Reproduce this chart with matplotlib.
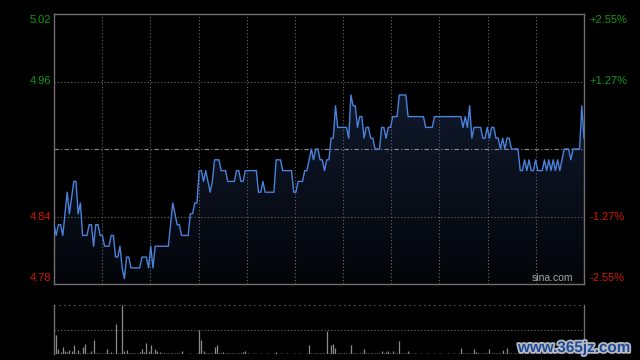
import numpy as np
import matplotlib
matplotlib.use("Agg")
import matplotlib.pyplot as plt
import matplotlib.patheffects as pe

plt.rcParams['font.family'] = ['Liberation Sans', 'DejaVu Sans']

# intraday price: minute index and price at turning points
minutes = [0, 1, 2, 3, 4, 5, 6, 7, 9, 10, 11, 12, 13, 15, 16, 17, 18, 19, 20, 21,
           22, 23, 25, 26, 27, 28, 29, 30, 31, 32, 33, 34, 35, 39, 40, 42, 43, 44, 45, 46,
           52, 53, 54, 55, 56, 57, 58, 61, 62, 63, 64, 65, 66, 67, 68, 69, 71, 72, 73, 75,
           76, 78, 79, 82, 83, 84, 85, 86, 87, 92, 93, 94, 95, 96, 100, 101, 103, 104, 108, 109,
           110, 111, 113, 114, 115, 116, 117, 118, 119, 120, 121, 122, 123, 124, 125, 126, 127, 128, 129, 133,
           134, 135, 136, 137, 138, 139, 140, 141, 142, 143, 144, 145, 146, 148, 149, 150, 151, 152, 153, 154,
           156, 157, 160, 161, 168, 169, 172, 173, 185, 186, 187, 188, 189, 190, 191, 194, 195, 196, 197, 198,
           199, 200, 201, 202, 203, 204, 205, 206, 207, 208, 211, 212, 213, 214, 215, 216, 217, 218, 219, 220,
           222, 223, 224, 225, 226, 227, 228, 229, 230, 231, 232, 234, 235, 236, 238, 239, 240, 241]
prices = [4.83, 4.82, 4.83, 4.83, 4.82, 4.84, 4.86, 4.84, 4.87, 4.87, 4.84, 4.85, 4.82, 4.82, 4.83, 4.83, 4.81, 4.83, 4.83, 4.82,
          4.82, 4.81, 4.81, 4.82, 4.82, 4.80, 4.80, 4.81, 4.79, 4.78, 4.80, 4.80, 4.79, 4.79, 4.80, 4.80, 4.79, 4.81, 4.79, 4.81,
          4.81, 4.83, 4.85, 4.84, 4.83, 4.83, 4.82, 4.82, 4.84, 4.84, 4.85, 4.85, 4.88, 4.88, 4.87, 4.88, 4.86, 4.87, 4.89, 4.89,
          4.88, 4.88, 4.87, 4.87, 4.88, 4.88, 4.87, 4.87, 4.88, 4.88, 4.86, 4.86, 4.87, 4.86, 4.86, 4.89, 4.89, 4.88, 4.88, 4.86,
          4.86, 4.87, 4.87, 4.88, 4.88, 4.89, 4.90, 4.89, 4.90, 4.90, 4.89, 4.89, 4.88, 4.89, 4.89, 4.91, 4.91, 4.94, 4.92, 4.92,
          4.91, 4.95, 4.94, 4.94, 4.92, 4.93, 4.93, 4.91, 4.92, 4.92, 4.91, 4.91, 4.90, 4.90, 4.92, 4.92, 4.91, 4.92, 4.92, 4.93,
          4.93, 4.95, 4.95, 4.93, 4.93, 4.92, 4.92, 4.93, 4.93, 4.92, 4.93, 4.92, 4.94, 4.91, 4.92, 4.92, 4.91, 4.91, 4.92, 4.91,
          4.92, 4.92, 4.91, 4.91, 4.90, 4.91, 4.90, 4.91, 4.91, 4.90, 4.90, 4.88, 4.88, 4.89, 4.88, 4.89, 4.88, 4.88, 4.89, 4.88,
          4.88, 4.89, 4.88, 4.89, 4.88, 4.89, 4.88, 4.89, 4.88, 4.89, 4.90, 4.90, 4.89, 4.90, 4.90, 4.90, 4.94, 4.91]

# volume per minute (relative units)
volume = [5, 39, 10, 5, 14, 7, 5, 9, 6, 19, 3, 9, 3, 14, 21, 2, 3, 7, 29, 2,
          2, 2, 3, 2, 11, 3, 4, 3, 61, 3, 2, 100, 7, 8, 3, 2, 3, 3, 2, 5,
          11, 5, 23, 7, 19, 2, 11, 7, 4, 3, 2, 3, 2, 3, 2, 2, 3, 2, 7, 1,
          1, 1, 2, 1, 1, 2, 50, 29, 7, 3, 2, 3, 2, 15, 19, 3, 2, 5, 2, 2,
          2, 2, 2, 2, 2, 2, 4, 7, 2, 1, 1, 2, 1, 1, 2, 1, 1, 2, 1, 1,
          2, 5, 1, 2, 1, 1, 2, 1, 1, 2, 1, 1, 2, 1, 1, 2, 19, 3, 2, 2,
          2, 2, 2, 2, 46, 3, 19, 21, 12, 2, 2, 2, 2, 2, 2, 19, 2, 2, 2, 2,
          2, 11, 2, 2, 2, 2, 2, 2, 2, 7, 2, 5, 6, 2, 7, 2, 2, 27, 2, 2,
          2, 7, 2, 1, 2, 1, 1, 2, 1, 1, 2, 1, 1, 2, 1, 1, 2, 1, 1, 2,
          1, 1, 2, 1, 2, 12, 2, 2, 2, 2, 2, 10, 5, 2, 2, 2, 2, 2, 10, 2,
          2, 2, 2, 2, 9, 2, 13, 2, 2, 2, 3, 2, 2, 4, 2, 2, 3, 2, 2, 3,
          2, 2, 3, 2, 2, 3, 2, 2, 2, 3, 2, 2, 2, 2, 3, 2, 2, 2, 3, 2, 2, 4]

prev_close = 4.90
pct = 0.0255
y_top = prev_close * (1 + pct)
y_bot = prev_close * (1 - pct)
left_labels = ['4.78', '4.84', '', '4.96', '5.02']
right_labels = ['-2.55%', '-1.27%', '', '+1.27%', '+2.55%']

GREEN = '#129a12'
RED = '#d41800'
GRID = '#6a6a6a'
SPINE = '#707070'

fig = plt.figure(figsize=(6.4, 3.6), dpi=100, facecolor='black')
ax = fig.add_axes([54/640, 76/360, 530/640, 270/360], facecolor='black')
ax2 = fig.add_axes([54/640, 6/360, 530/640, 49/360], facecolor='black')

ax.set_xlim(0, 241)
ax.set_ylim(y_bot, y_top)

# gradient fill under the price line
poly = ax.fill_between(minutes, prices, y_bot, color='none', lw=0)
grad = np.linspace(1, 0, 256).reshape(-1, 1)
top_c = np.array([22, 34, 60]) / 255
bot_c = np.array([3, 5, 9]) / 255
img = grad[..., None] * top_c + (1 - grad[..., None]) * bot_c
im = ax.imshow(img, extent=[0, 241, y_bot, y_top], aspect='auto', origin='upper', zorder=1)
path = poly.get_paths()[0]
im.set_clip_path(path, transform=ax.transData)

ax.plot(minutes, prices, color='#4a82dc', lw=1.0, zorder=3)

# grid
for k in range(1, 11):
    ax.axvline(241 * k / 11, color=GRID, lw=0.8, ls=(0, (1, 2)), zorder=2)
yticks = [y_bot + (y_top - y_bot) * q / 4 for q in range(5)]
for q in (1, 3):
    ax.axhline(yticks[q], color=GRID, lw=0.8, ls=(0, (1, 2)), zorder=2)
ax.axhline(prev_close, color='#8a8a8a', lw=0.8, ls=(0, (4, 2, 1, 2)), zorder=2)

for s in ax.spines.values():
    s.set_color(SPINE)
    s.set_linewidth(1)
ax.set_xticks([])
ax.set_yticks([])

# axis labels
for q in range(5):
    if not left_labels[q]:
        continue
    frac = q / 4
    if q == 0:
        frac = 0.024
    elif q == 4:
        frac = 0.978
    c = GREEN if q > 2 else RED
    ax.text(-0.006, frac, left_labels[q], transform=ax.transAxes, ha='right', va='center',
            color=c, fontsize=8)
    ax.text(1.011, frac, right_labels[q], transform=ax.transAxes, ha='left', va='center',
            color=c, fontsize=8)

ax.text(0.979, 0.022, 'sina.com', transform=ax.transAxes, ha='right', va='center',
        color='#a8a8a8', fontsize=7.5)

# volume panel
ax2.set_xlim(0, 241)
ax2.set_ylim(0, 100)
ax2.vlines(np.arange(len(volume)), 0, volume, color='#8c8c8c', lw=0.9)
ax2.axhline(50, color=GRID, lw=0.8, ls=(0, (1, 2)))
ax2.axhline(100, color=GRID, lw=1.2, ls=(0, (1, 2)))
for side in ('top', 'bottom'):
    ax2.spines[side].set_visible(False)
for side in ('left', 'right'):
    ax2.spines[side].set_color(SPINE)
    ax2.spines[side].set_linewidth(1)
ax2.set_xticks([])
ax2.set_yticks([])

fig.text(518/640, 5/360, 'www.365jz.com', color='#1d4b98', fontsize=11, fontweight='bold',
         ha='left', va='bottom',
         path_effects=[pe.withStroke(linewidth=2.5, foreground='#b8bcc2')])

fig.savefig('out.png', dpi=100, facecolor='black')
